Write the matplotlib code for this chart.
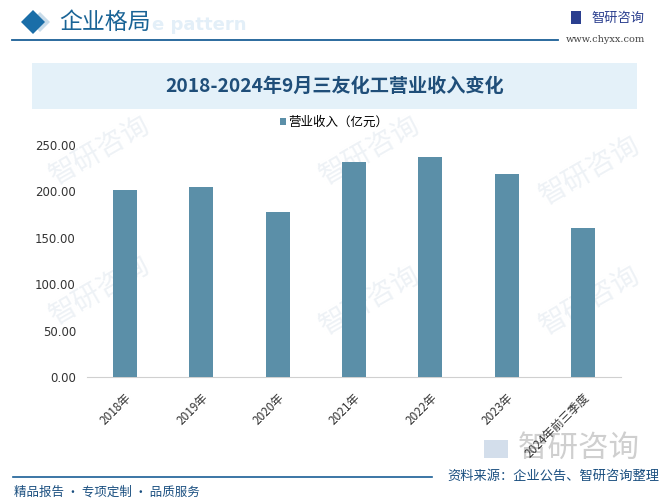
import matplotlib
matplotlib.use("Agg")
import matplotlib.pyplot as plt
from matplotlib.patches import Rectangle, Polygon

plt.rcParams['font.family'] = ['Noto Sans CJK SC', 'DejaVu Sans']

categories = ["2018年", "2019年", "2020年", "2021年", "2022年", "2023年", "2024年前三季度"]
revenue = [201.6, 204.8, 177.9, 231.7, 237.1, 218.8, 160.7]
yticks = [0, 50, 100, 150, 200, 250]
series_name = "营业收入（亿元）"
title = "2018-2024年9月三友化工营业收入变化"

W, H = 670, 504
fig = plt.figure(figsize=(W / 100, H / 100), dpi=100)

def fx(x):
    return x / W

def fy(y):
    return 1 - y / H

# Faint watermarks
for (x, y) in [(100, 290), (370, 300), (590, 300), (100, 150), (370, 150), (590, 170)]:
    fig.text(fx(x), fy(y), "智研咨询", fontsize=20, color="#eef2f6", rotation=30,
             ha="center", va="center", zorder=-1)

# Header
fig.patches.append(Polygon([(fx(40), fy(12)), (fx(50), fy(22)), (fx(40), fy(32)), (fx(30), fy(22))],
                           closed=True, transform=fig.transFigure, facecolor="#c9dcea", edgecolor="none"))
fig.patches.append(Polygon([(fx(33), fy(10)), (fx(45), fy(22)), (fx(33), fy(34)), (fx(21), fy(22))],
                           closed=True, transform=fig.transFigure, facecolor="#1a6ea8", edgecolor="none"))
fig.text(fx(152), fy(25), "e pattern", fontsize=13, color="#e3eff8", fontweight="bold",
         ha="left", va="center", family="DejaVu Sans", zorder=-1)
fig.text(fx(59), fy(22), "企业格局", fontsize=16.5, color="#1a6496", ha="left", va="center")
fig.lines.append(plt.Line2D([fx(12), fx(558)], [fy(40), fy(40)], transform=fig.transFigure,
                            color="#1a5f96", lw=1.3))
fig.patches.append(Rectangle((fx(571), fy(24)), 10 / W, 13 / H, transform=fig.transFigure,
                             facecolor="#2b3f8f", edgecolor="none"))
fig.text(fx(591), fy(18), "智研咨询", fontsize=9.5, color="#2b3f8f", ha="left", va="center")
fig.text(fx(566), fy(39), "www.chyxx.com", fontsize=7, color="#444444", ha="left", va="center",
         family="DejaVu Serif")

# Title box
fig.patches.append(Rectangle((fx(32), fy(109)), (637 - 32) / W, (109 - 63) / H,
                             transform=fig.transFigure, facecolor="#e4f1f9", edgecolor="none"))
fig.text(fx(335), fy(86), title, fontsize=13.8, color="#1f4e79", fontweight="bold",
         ha="center", va="center")

# Axes
ax = fig.add_axes([fx(87), fy(377), (621 - 87) / W, (377 - 145) / H])
x = list(range(len(categories)))
ax.bar(x, revenue, width=0.315, color="#5b8fa8", label=series_name, zorder=3)
ax.set_xlim(-0.5, len(categories) - 0.5)
ax.set_ylim(0, 250)
ax.set_yticks(yticks)
ax.set_yticklabels([f"{v:.2f}" for v in yticks], fontsize=8.5, color="#333333", family="DejaVu Sans")
ax.set_xticks(x)
ax.set_xticklabels(categories, rotation=45, ha="right", rotation_mode="anchor",
                   fontsize=8.5, color="#333333")
ax.tick_params(axis="y", length=0, pad=8)
ax.tick_params(axis="x", length=0, pad=10)
for s in ["top", "right", "left"]:
    ax.spines[s].set_visible(False)
ax.spines["bottom"].set_color("#d0d0d0")
ax.patch.set_alpha(0)

fig.legend(loc="center", bbox_to_anchor=(fx(334), fy(122)), frameon=False, fontsize=9,
           handlelength=0.5, handleheight=0.5, handletextpad=0.2)

# Bottom-right logo
fig.patches.append(Rectangle((fx(484), fy(458)), 24 / W, 18 / H, transform=fig.transFigure,
                             facecolor="#d3deeb", edgecolor="none", zorder=-1))
fig.text(fx(518), fy(448), "智研咨询", fontsize=22, color="#cfcfcf", ha="left", va="center",
         zorder=-1)

# Footer
fig.lines.append(plt.Line2D([fx(13), fx(432)], [fy(477), fy(477)], transform=fig.transFigure,
                            color="#1a5f96", lw=1.2))
fig.text(fx(14), fy(492), "精品报告 · 专项定制 · 品质服务", fontsize=9, color="#1a4f80",
         ha="left", va="center")
fig.text(fx(659), fy(476), "资料来源：企业公告、智研咨询整理", fontsize=9.5, color="#1a4f80",
         ha="right", va="center")

fig.savefig("out.png", dpi=100)
